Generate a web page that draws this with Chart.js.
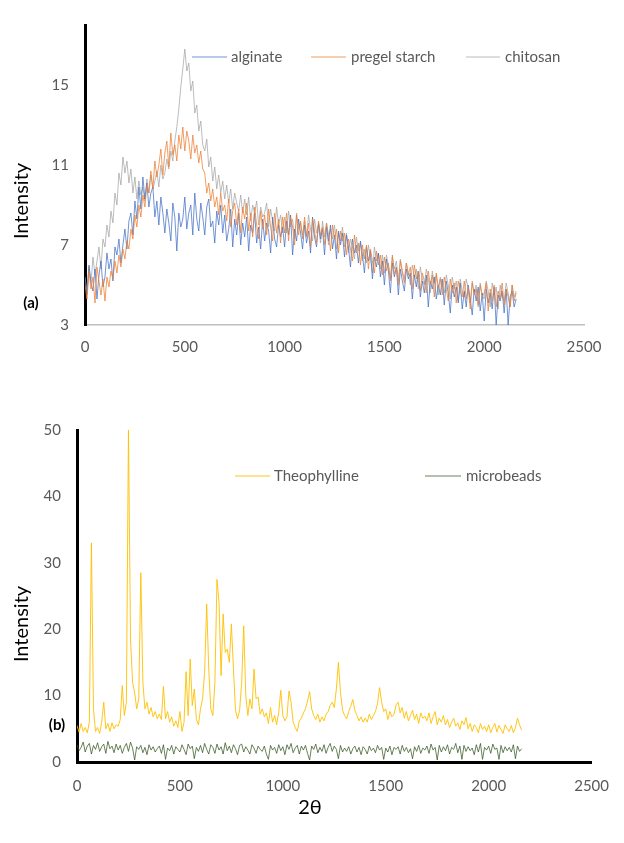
<!DOCTYPE html>
<html>
<head>
<meta charset="utf-8">
<title>XRD patterns</title>
<script src="https://cdn.jsdelivr.net/npm/chart.js@4.4.1/dist/chart.umd.min.js"></script>
<style>
  html, body { margin: 0; padding: 0; background: #fff; }
  #page { position: relative; width: 624px; height: 843px; }
  .panel { position: absolute; left: 0; width: 624px; }
  #panelA { top: 0; height: 380px; }
  #panelB { top: 380px; height: 463px; }
</style>
</head>
<body>
<div id="page">
  <div class="panel" id="panelA"><canvas id="chartA"></canvas></div>
  <div class="panel" id="panelB"><canvas id="chartB"></canvas></div>
</div>
<script>
// sampling step of the 2theta readings (one value every 10 units, 0..2160)
const twoThetaStep = 10;

const xTicks = [0, 500, 1000, 1500, 2000, 2500];
const yTicksA = [3, 7, 11, 15];
const yTicksB = [0, 10, 20, 30, 40, 50];

// panel (a)
const alginate = [
  5.3,4.5,6.0,5.1,4.7,5.8,4.3,5.5,6.2,4.9,
  5.4,6.6,5.8,6.3,5.2,6.9,6.5,7.3,6.1,7.0,
  7.8,6.8,8.2,8.6,7.5,9.2,8.3,9.9,8.8,10.4,
  9.3,10.1,8.9,9.6,9.9,8.4,9.2,8.0,9.4,8.6,
  7.6,8.8,8.1,7.2,9.1,8.4,6.7,8.6,7.9,8.3,
  9.4,7.8,8.6,9.0,7.5,9.6,8.3,7.7,9.1,8.4,
  7.5,8.9,9.3,7.9,8.2,7.1,8.7,8.0,9.0,7.6,
  8.5,7.2,7.8,8.8,6.9,8.3,7.5,8.6,7.0,8.1,
  7.4,8.4,6.7,8.0,7.6,8.6,7.1,7.9,6.8,8.3,
  7.2,8.1,7.7,6.6,8.4,7.3,6.9,8.0,7.4,7.9,
  6.9,8.2,7.5,8.5,6.5,7.8,7.2,8.3,7.6,6.8,
  8.0,7.1,7.7,6.6,8.4,7.4,6.9,8.1,7.3,7.8,
  6.5,7.9,7.2,8.0,6.8,7.5,6.3,7.7,7.0,7.6,
  6.4,7.5,6.9,5.9,7.3,6.6,7.0,6.1,7.2,6.5,
  5.6,6.9,6.2,6.7,5.3,6.4,5.9,6.6,5.4,6.2,
  5.0,6.3,5.7,4.6,6.1,5.4,5.9,4.5,5.8,5.2,
  4.7,5.8,5.3,5.6,4.3,5.5,4.9,5.7,4.4,5.2,
  4.6,5.5,3.9,5.2,4.8,5.4,4.3,5.0,4.5,5.3,
  4.0,5.2,4.6,3.6,5.0,4.4,4.9,4.1,5.1,3.8,
  4.7,3.9,5.0,4.3,3.5,4.8,4.2,4.9,3.7,4.6,
  3.2,4.8,4.1,4.6,3.8,4.9,3.0,4.5,4.2,4.7,
  3.6,4.8,3.0,4.4,4.7,3.9,4.3
];
const pregelStarch = [
  5.0,4.3,5.7,4.8,5.4,4.1,5.9,5.2,4.5,5.3,
  4.2,5.4,4.9,5.7,5.3,6.2,5.6,6.5,5.9,6.8,
  6.3,7.2,6.8,7.8,7.3,8.5,7.9,9.0,8.4,9.5,
  8.9,10.0,9.6,10.7,9.8,11.2,10.4,11.0,11.8,10.5,
  11.6,12.2,10.9,12.6,11.5,12.0,11.2,12.5,11.8,12.9,
  11.7,12.7,12.2,11.3,12.5,11.6,12.0,11.1,11.7,10.8,
  10.6,9.6,10.1,9.2,9.8,8.9,9.4,8.5,9.6,8.7,
  9.0,8.2,9.3,7.9,8.7,9.1,8.0,8.8,7.6,8.9,
  8.3,9.1,7.7,8.6,7.4,8.9,8.0,7.3,8.7,7.8,
  8.5,7.5,8.8,7.9,7.2,8.6,7.6,8.3,7.1,8.4,
  7.6,8.6,7.2,8.4,7.9,7.0,8.5,7.5,8.2,7.3,
  8.4,7.4,8.1,6.9,8.3,7.7,7.1,8.2,7.5,7.9,
  7.0,8.1,7.5,6.7,8.0,7.3,7.8,6.6,7.7,7.2,
  7.6,6.5,7.3,6.8,6.2,7.5,6.6,7.1,6.0,7.0,
  6.3,7.0,5.8,6.8,6.2,5.6,6.7,6.0,6.5,5.5,
  6.4,5.7,6.1,5.2,6.5,5.5,5.9,5.0,6.2,5.6,
  5.1,6.1,5.5,5.9,4.8,6.0,5.3,5.7,4.7,5.6,
  5.2,4.6,5.7,5.0,5.5,4.4,5.6,4.9,5.3,4.5,
  5.4,4.8,4.2,5.3,4.6,5.1,4.1,5.2,4.7,4.4,
  5.2,4.3,4.9,3.8,5.1,4.5,4.8,4.0,5.0,4.4,
  4.6,5.1,3.7,4.8,4.2,5.0,3.9,4.7,4.3,5.1,
  4.0,4.8,4.4,3.9,5.0,4.2,4.6
];
const chitosan = [
  5.4,4.7,5.9,5.1,6.4,5.5,6.2,6.9,5.8,7.3,
  6.9,8.0,7.4,8.7,8.1,9.6,9.0,10.6,10.0,11.4,
  10.6,11.2,10.1,10.8,9.6,10.4,9.3,10.2,9.5,9.9,
  9.2,10.3,9.6,10.5,9.8,10.2,10.7,9.9,11.0,10.3,
  10.6,11.3,10.8,11.7,11.2,12.2,12.9,13.8,14.9,15.8,
  16.8,15.7,16.1,14.7,15.2,13.6,14.0,12.7,13.2,12.0,
  11.7,12.3,10.9,11.4,10.2,10.9,9.8,10.5,9.6,10.2,
  9.3,10.0,9.1,9.8,8.8,9.6,9.1,8.7,9.5,8.6,
  9.3,8.5,9.4,8.2,9.0,8.6,9.2,8.0,8.9,8.4,
  8.6,9.1,7.9,8.8,8.2,7.7,8.9,8.0,8.5,7.6,
  8.4,7.6,8.7,7.9,8.3,7.3,8.6,7.8,8.1,7.5,
  8.2,7.4,8.5,7.8,7.2,8.3,7.6,8.0,7.1,8.2,
  7.4,8.1,7.0,7.8,7.3,8.0,6.8,7.6,7.2,7.9,
  6.9,7.6,6.6,7.3,6.9,6.3,7.4,6.7,7.1,6.2,
  6.8,6.1,7.0,6.4,5.6,6.9,6.2,6.6,5.8,6.5,
  5.6,6.5,6.0,5.3,6.4,5.8,6.2,5.2,6.3,5.7,
  5.3,6.1,5.6,5.0,6.0,5.4,5.8,4.8,5.9,5.3,
  5.0,5.8,5.3,4.6,5.7,5.1,5.5,4.5,5.4,5.0,
  4.6,5.5,5.0,4.3,5.4,4.8,5.2,4.2,5.3,4.7,
  4.4,5.3,4.8,4.1,5.2,4.6,5.0,3.9,5.1,4.5,
  4.3,5.2,4.7,3.9,5.1,4.5,4.9,3.8,5.0,4.4,
  4.2,5.1,4.6,3.9,5.0,4.4,4.7
];

// panel (b)
const theophylline = [
  5.5,4.5,5.8,4.6,5.2,4.4,6.0,33.0,8.0,4.6,
  5.2,4.3,6.0,9.0,5.0,5.8,4.6,5.9,5.0,5.6,
  5.4,6.4,11.5,7.0,9.0,50.0,18.5,12.0,10.5,8.0,
  9.5,28.5,12.0,8.0,9.0,7.2,8.2,6.8,7.6,6.5,
  7.2,6.4,11.4,6.5,7.6,6.0,6.8,5.4,6.2,5.2,
  7.6,4.6,6.0,13.6,7.0,15.5,8.5,11.0,6.4,5.6,
  8.0,9.5,13.5,23.8,14.0,8.0,7.0,12.0,27.5,24.0,
  13.0,22.3,16.5,17.0,15.0,20.8,14.0,7.8,6.5,7.8,
  12.0,20.5,10.0,7.0,9.5,8.0,14.0,9.5,9.8,7.2,
  8.0,6.8,7.4,5.8,8.2,6.0,7.0,5.6,7.5,10.8,
  7.0,6.2,6.8,10.7,9.0,6.0,5.2,4.6,6.2,6.6,
  7.4,8.0,9.2,10.6,8.0,7.0,6.4,7.2,6.0,6.8,
  6.2,7.2,7.6,8.5,9.0,8.2,11.0,15.0,10.5,7.8,
  7.0,6.5,7.6,8.4,9.4,7.8,7.0,6.2,6.8,6.0,
  6.6,6.0,7.2,6.4,7.0,7.6,8.8,11.2,9.0,7.6,
  8.0,6.4,7.6,6.8,7.2,8.6,9.0,7.4,8.2,6.6,
  7.6,6.2,7.0,7.8,6.4,7.2,5.8,7.4,6.6,6.9,
  6.2,7.4,5.8,6.8,7.6,5.6,6.6,6.0,7.0,5.6,
  6.4,5.2,6.0,6.6,5.4,5.9,4.9,6.2,5.6,6.7,
  5.0,5.8,4.6,5.6,5.2,4.4,5.8,4.9,5.4,4.6,
  5.6,4.4,5.2,5.8,4.5,5.5,4.9,4.3,5.6,5.0,
  4.6,5.5,4.4,5.2,6.6,5.6,4.8
];
const microbeads = [
  2.6,1.7,2.2,3.0,1.5,2.4,2.8,1.2,2.5,1.9,
  2.9,1.6,2.3,2.7,1.3,3.1,2.0,2.4,1.4,2.7,
  1.8,2.5,1.3,2.2,2.8,1.6,3.0,2.1,0.3,2.3,
  1.9,2.5,1.4,2.2,1.1,2.6,1.8,2.3,1.5,2.0,
  2.4,1.3,2.6,0.4,2.1,1.7,2.5,1.2,2.3,1.9,
  1.5,2.6,1.9,1.1,2.7,2.0,2.4,0.5,2.2,1.6,
  2.5,1.4,2.8,1.9,1.2,2.6,2.2,1.3,2.7,1.8,
  2.3,1.2,2.9,1.7,2.4,1.4,2.6,2.0,1.1,2.5,
  2.7,1.5,2.3,1.8,1.2,2.6,2.1,1.3,2.4,1.9,
  1.6,2.4,1.2,0.4,2.5,1.8,2.2,1.3,2.6,1.7,
  2.3,1.1,2.6,1.9,2.8,1.4,2.1,2.5,1.2,2.4,
  1.8,2.5,1.3,0.3,2.4,1.9,2.7,1.4,2.2,1.6,
  2.6,1.3,2.2,2.8,1.6,2.4,1.9,0.5,2.5,1.5,
  2.1,1.6,2.3,1.2,2.0,2.4,1.5,2.2,1.1,2.3,
  1.9,1.2,2.4,1.7,2.1,1.4,2.5,1.8,2.2,0.4,
  2.1,1.5,2.4,1.1,2.2,1.9,2.3,1.2,2.5,1.6,
  2.2,1.4,2.0,0.5,2.3,1.6,2.5,1.3,2.1,1.8,
  2.4,1.3,2.7,1.8,2.2,0.3,2.5,1.5,2.3,1.7,
  2.6,1.2,2.2,1.9,2.8,1.4,2.4,0.4,2.5,1.6,
  2.3,1.7,2.1,1.1,2.6,1.5,2.8,0.4,2.2,1.8,
  2.4,1.3,2.7,1.9,2.1,0.4,2.5,1.4,2.3,1.7,
  2.2,1.5,2.6,0.5,2.4,1.6,2.0
];

const FONT = 'Lato, "Open Sans", sans-serif';

function toPoints(values) {
  return values.map((v, i) => ({ x: i * twoThetaStep, y: v }));
}

function series(label, values, color, order) {
  return {
    label: label,
    data: toPoints(values),
    borderColor: color,
    borderWidth: 1,
    pointRadius: 0,
    tension: 0,
    fill: false,
    order: order
  };
}

// axis titles, panel tag and a hand placed legend
const panelDecor = {
  id: 'panelDecor',
  afterDraw(chart, args, opts) {
    const ctx = chart.ctx;
    ctx.save();
    ctx.fillStyle = '#000';
    ctx.textAlign = 'center';
    ctx.textBaseline = 'middle';
    ctx.font = '20px ' + FONT;
    ctx.save();
    ctx.translate(opts.yTitle[0], opts.yTitle[1]);
    ctx.rotate(-Math.PI / 2);
    ctx.fillText('Intensity', 0, 0);
    ctx.restore();
    ctx.fillText('2θ', opts.xTitle[0], opts.xTitle[1]);
    ctx.font = 'bold 15px ' + FONT;
    ctx.fillText(opts.tag, opts.tagPos[0], opts.tagPos[1]);

    // legend
    ctx.font = '15px ' + FONT;
    ctx.textAlign = 'left';
    chart.data.datasets.forEach((ds, i) => {
      const it = opts.legend.items[i];
      ctx.strokeStyle = ds.borderColor;
      ctx.lineWidth = 1.2;
      ctx.beginPath();
      ctx.moveTo(it[0], opts.legend.y);
      ctx.lineTo(it[1], opts.legend.y);
      ctx.stroke();
      ctx.fillStyle = '#595959';
      ctx.fillText(ds.label, it[2], opts.legend.y);
    });
    ctx.restore();
  }
};

function makeOptions(cfg) {
  const tickFont = { family: FONT, size: 15 };
  return {
    responsive: true,
    maintainAspectRatio: false,
    animation: false,
    events: [],
    layout: { padding: cfg.padding },
    plugins: {
      legend: { display: false },
      tooltip: { enabled: false },
      panelDecor: cfg.decor
    },
    scales: {
      x: {
        type: 'linear',
        min: 0,
        max: 2500,
        afterBuildTicks: axis => { axis.ticks = xTicks.map(v => ({ value: v })); },
        afterFit: axis => { axis.height = cfg.xHeight; },
        grid: { display: false, drawTicks: false },
        border: { display: true, color: cfg.xBorder, width: cfg.xBorderWidth },
        ticks: { color: '#595959', font: tickFont, padding: cfg.xPad, maxRotation: 0, callback: v => String(v) }
      },
      y: {
        type: 'linear',
        min: cfg.yMin,
        max: cfg.yMax,
        afterBuildTicks: axis => { axis.ticks = cfg.yTicks.map(v => ({ value: v })); },
        afterFit: axis => { axis.width = cfg.yWidth; },
        grid: { display: false, drawTicks: false },
        border: { display: true, color: '#000', width: 3 },
        ticks: { color: '#595959', font: tickFont, padding: 16, callback: v => String(v) }
      }
    }
  };
}

new Chart(document.getElementById('chartA'), {
  type: 'line',
  data: {
    datasets: [
      series('alginate', alginate, 'rgba(68,114,196,0.75)', 2),
      series('pregel starch', pregelStarch, 'rgba(237,125,49,0.75)', 1),
      series('chitosan', chitosan, 'rgba(165,165,165,0.75)', 3)
    ]
  },
  options: makeOptions({
    padding: { left: 0, right: 40, top: 14, bottom: 0 },
    xHeight: 55, yWidth: 85, xPad: 13,
    xBorder: '#bfbfbf', xBorderWidth: 1.5,
    yMin: 3, yMax: 18, yTicks: yTicksA,
    decor: {
      yTitle: [22, 201], xTitle: [303, 402], tag: '(a)', tagPos: [31, 303],
      legend: { y: 57, items: [[192, 227, 231], [311, 346, 351], [466, 500, 505]] }
    }
  }),
  plugins: [panelDecor]
});

new Chart(document.getElementById('chartB'), {
  type: 'line',
  data: {
    datasets: [
      series('Theophylline', theophylline, 'rgba(255,192,0,0.9)', 1),
      series('microbeads', microbeads, 'rgba(56,87,35,0.75)', 2)
    ]
  },
  options: makeOptions({
    padding: { left: 0, right: 17, top: 50, bottom: 0 },
    xHeight: 81, yWidth: 77, xPad: 15,
    xBorder: '#000', xBorderWidth: 3,
    yMin: 0, yMax: 50, yTicks: yTicksB,
    decor: {
      yTitle: [22, 244], xTitle: [310, 428], tag: '(b)', tagPos: [57, 345],
      legend: { y: 96, items: [[235, 270, 274], [425, 461, 466]] }
    }
  }),
  plugins: [panelDecor]
});
</script>
</body>
</html>
